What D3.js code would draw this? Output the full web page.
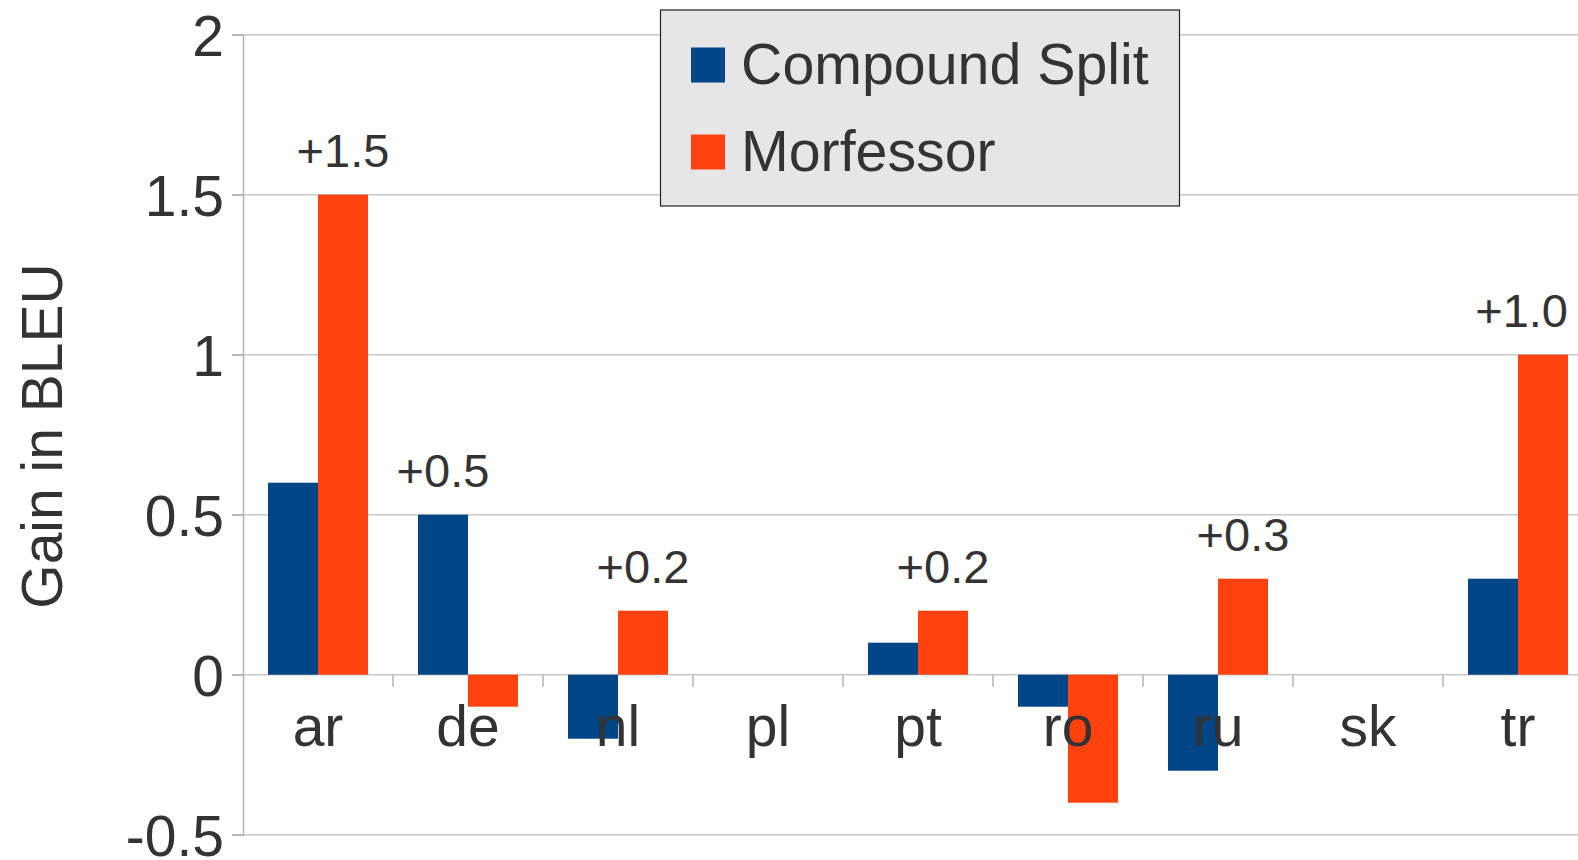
<!DOCTYPE html>
<html>
<head>
<meta charset="utf-8">
<script src="https://cdn.jsdelivr.net/npm/d3@7"></script>
<style>
html, body { margin: 0; padding: 0; background: #fff; }
svg { display: block; }
text { font-family: "Liberation Sans", Arial, sans-serif; fill: #333333; }
</style>
</head>
<body>
<svg id="chart" width="1578" height="860"></svg>
<script>
const categories = ["ar", "de", "nl", "pl", "pt", "ro", "ru", "sk", "tr"];
const seriesNames = ["Compound Split", "Morfessor"];
const compoundSplit = [0.6, 0.5, -0.2, 0, 0.1, -0.1, -0.3, 0, 0.3];
const morfessor = [1.5, -0.1, 0.2, 0, 0.2, -0.4, 0.3, 0, 1.0];
const gainLabels = ["+1.5", "+0.5", "+0.2", "", "+0.2", "", "+0.3", "", "+1.0"];
const yTicks = [-0.5, 0, 0.5, 1, 1.5, 2];
const yTickLabels = ["-0.5", "0", "0.5", "1", "1.5", "2"];
const colors = ["#004586", "#ff420e"];

const svg = d3.select("#chart");
const W = 1578;
const plotLeft = 243, plotRight = 1593, plotTop = 34.7, plotBottom = 834.7;

const x = d3.scaleBand().domain(categories).range([plotLeft, plotRight]);
const x1 = d3.scaleBand().domain(seriesNames).range([0, x.bandwidth()]).paddingOuter(0.5).paddingInner(0);
const y = d3.scaleLinear().domain([-0.5, 2]).range([plotBottom, plotTop]);

// gridlines
svg.append("g").selectAll("line").data(yTicks).join("line")
  .attr("x1", plotLeft - 11).attr("x2", W)
  .attr("y1", d => y(d)).attr("y2", d => y(d))
  .attr("stroke", "#c8c8c8").attr("stroke-width", 1.5);

// y axis
const yAxis = d3.axisLeft(y).tickValues(yTicks)
  .tickFormat((d, i) => yTickLabels[i]).tickSize(11).tickPadding(8);
const gy = svg.append("g").attr("transform", `translate(${plotLeft},0)`).call(yAxis);
gy.select(".domain").attr("stroke", "#b3b3b3").attr("stroke-width", 1.5);
gy.selectAll(".tick line").attr("stroke", "#b3b3b3").attr("stroke-width", 1.5);
gy.selectAll(".tick text").attr("font-size", 57).attr("fill", "#333333")
  .attr("font-family", "Liberation Sans, Arial, sans-serif").attr("dy", "0.36em");

// x boundary ticks
svg.append("g").selectAll("line").data(categories.slice(1)).join("line")
  .attr("x1", d => x(d)).attr("x2", d => x(d))
  .attr("y1", y(0)).attr("y2", y(0) + 12)
  .attr("stroke", "#b3b3b3").attr("stroke-width", 1.5);

// bars
const rows = categories.map((c, i) => ({ cat: c, vals: [compoundSplit[i], morfessor[i]], label: gainLabels[i] }));
const groups = svg.append("g").selectAll("g").data(rows).join("g")
  .attr("transform", d => `translate(${x(d.cat)},0)`);
groups.selectAll("rect").data(d => d.vals.map((v, j) => ({ s: seriesNames[j], v, j })))
  .join("rect")
  .attr("x", d => x1(d.s))
  .attr("width", x1.bandwidth())
  .attr("y", d => y(Math.max(0, d.v)))
  .attr("height", d => Math.abs(y(d.v) - y(0)))
  .attr("fill", d => colors[d.j]);

// category labels
svg.append("g").selectAll("text").data(categories).join("text")
  .attr("x", d => x(d) + x.bandwidth() / 2)
  .attr("y", y(0) + 71)
  .attr("text-anchor", "middle")
  .attr("font-size", 57)
  .text(d => d);

// gain labels
const gl = svg.append("g").selectAll("text").data(rows.filter(r => r.label)).join("text")
  .attr("x", d => {
    const j = d.vals[1] >= d.vals[0] ? 1 : 0;
    return x(d.cat) + x1(seriesNames[j]) + x1.bandwidth() / 2;
  })
  .attr("y", d => y(Math.max(d.vals[0], d.vals[1])) - 28)
  .attr("text-anchor", "middle")
  .attr("font-size", 47)
  .text(d => d.label);
gl.each(function() {
  const b = this.getBBox();
  if (b.x + b.width > W - 10) {
    const cx = +d3.select(this).attr("x");
    d3.select(this).attr("x", cx - (b.x + b.width - (W - 10)));
  }
});

// axis title
svg.append("text")
  .attr("transform", `translate(62,${436}) rotate(-90)`)
  .attr("text-anchor", "middle")
  .attr("font-size", 57)
  .text("Gain in BLEU");

// legend
const lg = svg.append("g");
lg.append("rect").attr("x", 660.5).attr("y", 10).attr("width", 519).attr("height", 196)
  .attr("fill", "#e6e6e6").attr("stroke", "#222").attr("stroke-width", 1.2);
const legendRows = lg.selectAll("g").data(seriesNames).join("g")
  .attr("transform", (d, i) => `translate(691,${47.5 + i * 87})`);
legendRows.append("rect").attr("width", 34).attr("height", 35)
  .attr("fill", (d, i) => colors[i]);
legendRows.append("text").attr("x", 50).attr("y", 36).attr("font-size", 57.3).text(d => d);
</script>
</body>
</html>
